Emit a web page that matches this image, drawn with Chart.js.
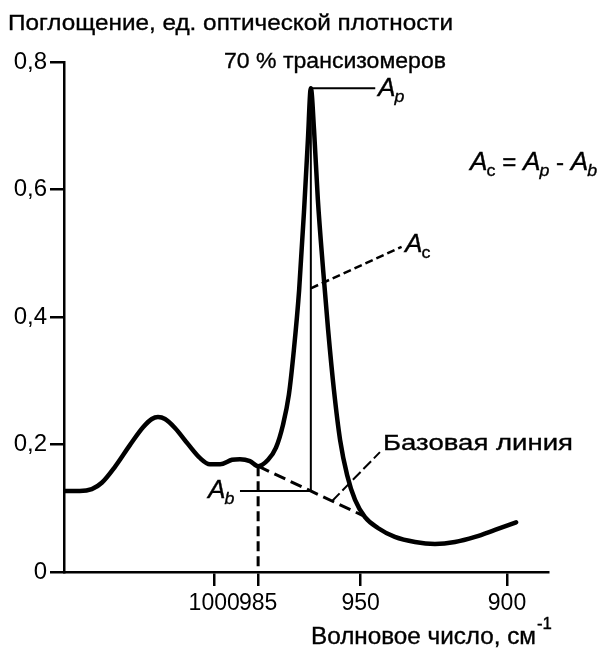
<!DOCTYPE html>
<html><head><meta charset="utf-8">
<script src="https://cdn.jsdelivr.net/npm/chart.js@4.4.1/dist/chart.umd.min.js"></script>
<style>html,body{margin:0;padding:0;background:#fff}#wrap{width:608px;height:648px;position:relative}</style>
</head><body><div id="wrap"><canvas id="c"></canvas></div>
<script>
// Spectrum (wavenumber, cm^-1 ; absorbance)
const wavenumber = [1051.3, 1045.9, 1041.8, 1038.4, 1033.9, 1028.8, 1024.3, 1021.3, 1019.2, 1016.8, 1013.4, 1009.0, 1004.9, 1001.5, 998.0, 993.9, 991.2, 987.8, 985.0, 981.6, 978.9, 976.5, 974.5, 972.8, 971.0, 969.3, 968.0, 967.0, 965.9, 964.6, 962.8, 961.1, 959.1, 957.0, 954.6, 951.9, 948.5, 944.1, 938.3, 931.4, 924.6, 917.8, 910.9, 904.1, 896.9];
const absorbance = [0.127, 0.127, 0.130, 0.140, 0.165, 0.199, 0.227, 0.240, 0.243, 0.240, 0.226, 0.201, 0.179, 0.169, 0.169, 0.176, 0.177, 0.174, 0.166, 0.176, 0.195, 0.231, 0.278, 0.348, 0.442, 0.568, 0.678, 0.759, 0.693, 0.584, 0.474, 0.380, 0.285, 0.207, 0.152, 0.113, 0.086, 0.069, 0.055, 0.047, 0.044, 0.047, 0.055, 0.066, 0.078];
// Baseline (tangent) and construction lines
const baselineX = [985, 949];
const baselineY = [0.166, 0.088];
const peakX = 967;
const peakY = 0.759;
const abX = [991.2, 967];       // A_b horizontal marker
const apX = [967, 945];         // A_p horizontal marker
const acLeaderX = [967, 936];   // A_c leader
const acLeaderY = [0.445, 0.51];
const baseLeaderX = [959.8, 943.4];
const baseLeaderY = [0.111, 0.188];
// Axes
const xTicks = [1000, 985, 950, 900];
const xRange = [886, 1051.3];
const yTicks = [0, 0.2, 0.4, 0.6, 0.8];
const yTickLabels = ['0', '0,2', '0,4', '0,6', '0,8'];

const FONT = '"Liberation Sans", Arial, Helvetica, sans-serif';
const baseAtPeak = baselineY[0] + (peakX - baselineX[0]) * (baselineY[1] - baselineY[0]) / (baselineX[1] - baselineX[0]);

function seg(xs, ys, opts) {
  return Object.assign({
    data: xs.map((x, i) => ({x, y: ys[i]})),
    borderColor: '#000', borderWidth: 2, pointRadius: 0, tension: 0, fill: false
  }, opts);
}

const datasets = [
  { data: wavenumber.map((x, i) => ({x, y: absorbance[i]})), borderColor: '#000', borderWidth: 4.5,
    pointRadius: 0, cubicInterpolationMode: 'monotone', fill: false, borderJoinStyle: 'round', borderCapStyle: 'round' },
  seg(baselineX, baselineY, {borderWidth: 3, borderDash: [12, 6]}),
  seg([baselineX[0], baselineX[0]], [baselineY[0], 0], {borderWidth: 3, borderDash: [10, 5]}),
  seg([peakX, peakX], [baseAtPeak, peakY], {borderWidth: 2}),
  seg(abX, [baseAtPeak, baseAtPeak], {borderWidth: 2}),
  seg(apX, [peakY, peakY], {borderWidth: 2}),
  seg(acLeaderX, acLeaderY, {borderWidth: 2.5, borderDash: [8, 4]}),
  seg(baseLeaderX, baseLeaderY, {borderWidth: 2, borderDash: [11, 4]})
];

function txt(ctx, s, x, y, size, sx, style) {
  ctx.save();
  ctx.font = (style || '') + ' ' + size + 'px ' + FONT;
  ctx.translate(x, y);
  ctx.scale(sx, 1);
  ctx.fillText(s, 0, 0);
  ctx.lineWidth = 0.35;
  ctx.strokeText(s, 0, 0);
  const w = ctx.measureText(s).width * sx;
  ctx.restore();
  return x + w;
}
function fitTxt(ctx, s, x, y, size, target) {
  ctx.font = size + 'px ' + FONT;
  const w = ctx.measureText(s).width;
  return txt(ctx, s, x, y, size, target / w);
}
function drawA(ctx, x, y, sub, subItalic) {
  let e = txt(ctx, 'A', x, y, 25, 1.05, 'italic');
  return txt(ctx, sub, e - 1, y + 6, 17, 1.05, subItalic ? 'italic' : '');
}

const textPlugin = {
  id: 'texts',
  afterDraw(chart) {
    const ctx = chart.ctx;
    ctx.save();
    ctx.fillStyle = '#000';
    ctx.strokeStyle = '#000';
    ctx.textBaseline = 'alphabetic';
    ctx.textAlign = 'left';
    fitTxt(ctx, 'Поглощение, ед. оптической плотности', 8, 30, 22.5, 445);
    fitTxt(ctx, '70 % трансизомеров', 224, 68, 22.5, 222);
    fitTxt(ctx, 'Базовая линия', 383, 450, 22.5, 190);
    const e = fitTxt(ctx, 'Волновое число, см', 311, 644, 23, 225);
    txt(ctx, '-1', e + 1, 629, 16, 1.05, '');
    drawA(ctx, 378, 96, 'p', true);
    drawA(ctx, 405, 252, 'c', false);
    drawA(ctx, 208, 498, 'b', true);
    let x = drawA(ctx, 470, 170, 'c', false);
    x = txt(ctx, ' = ', x, 170, 23, 1.05, '');
    x = drawA(ctx, x, 170, 'p', true);
    x = txt(ctx, ' - ', x, 170, 23, 1.05, '');
    drawA(ctx, x, 170, 'b', true);
    ctx.restore();
  }
};

new Chart(document.getElementById('c'), {
  type: 'line',
  data: { datasets },
  plugins: [textPlugin],
  options: {
    responsive: true, maintainAspectRatio: false, animation: false,
    layout: { padding: { top: 62, right: 60, left: 0, bottom: 0 } },
    plugins: { legend: { display: false }, tooltip: { enabled: false }, title: { display: false } },
    scales: {
      x: {
        type: 'linear', reverse: true, min: xRange[0], max: xRange[1],
        afterBuildTicks: s => { s.ticks = xTicks.map(v => ({value: v})); },
        afterFit: s => { s.height = 76; },
        ticks: { color: '#000', font: { family: FONT, size: 23 }, padding: 4, maxRotation: 0, autoSkip: false,
                 callback: v => String(v) },
        grid: { drawOnChartArea: false, drawTicks: true, tickLength: 14, color: '#000', lineWidth: 2.5 },
        border: { display: true, color: '#000', width: 2.5 }
      },
      y: {
        type: 'linear', min: 0, max: 0.8,
        afterBuildTicks: s => { s.ticks = yTicks.map(v => ({value: v})); },
        afterFit: s => { s.width = 64; },
        ticks: { color: '#000', font: { family: FONT, size: 24 }, padding: 3,
                 callback: (v) => yTickLabels[yTicks.findIndex(t => Math.abs(t - v) < 1e-9)] },
        grid: { drawOnChartArea: false, drawTicks: true, tickLength: 14, color: '#000', lineWidth: 2.5 },
        border: { display: true, color: '#000', width: 2.5 }
      }
    }
  }
});
</script></body></html>
